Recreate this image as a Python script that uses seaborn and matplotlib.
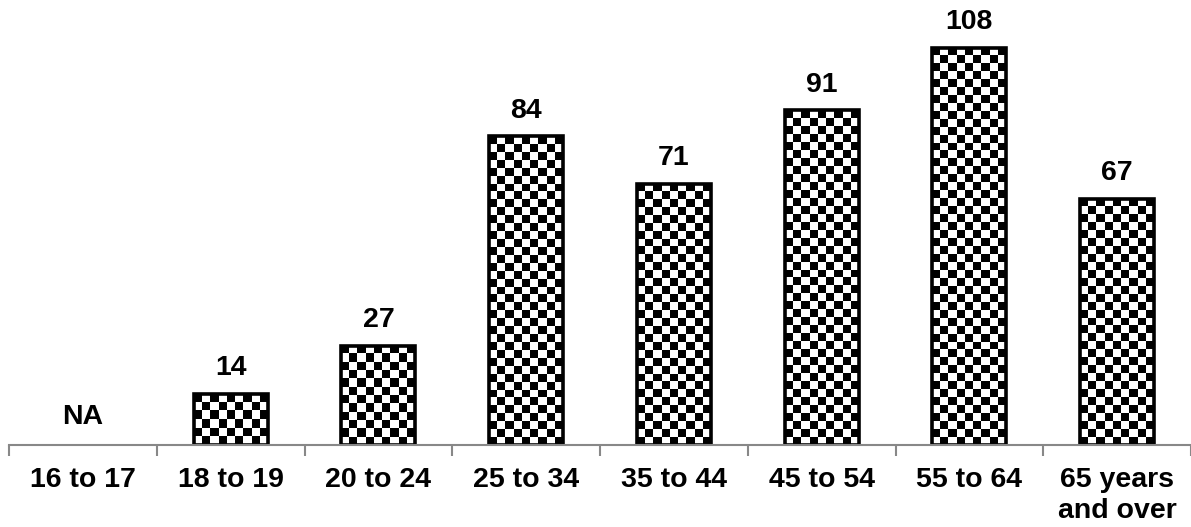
import numpy as np
import pandas as pd
import matplotlib
matplotlib.use("Agg")
import matplotlib.pyplot as plt
import seaborn as sns

# data
age_groups = ["16 to 17", "18 to 19", "20 to 24", "25 to 34", "35 to 44",
              "45 to 54", "55 to 64", "65 years\nand over"]
counts = [np.nan, 14, 27, 84, 71, 91, 108, 67]

df = pd.DataFrame({"age": age_groups, "count": counts})
df_bars = df.dropna()

sns.set_style("white")
plt.rcParams["font.family"] = ["Liberation Sans", "DejaVu Sans"]
plt.rcParams["text.color"] = "black"
plt.rcParams["xtick.color"] = "#888888"
plt.rcParams["xtick.labelcolor"] = "black"

FS = 20.5

fig = plt.figure(figsize=(11.91, 5.27), dpi=100)
ax = fig.add_axes([0.0076, 0.1556, 0.9924, 0.8444])

sns.barplot(data=df_bars, x="age", y="count", order=age_groups, width=0.5,
            color="white", edgecolor="black", linewidth=2.6, saturation=1, ax=ax)

ax.set_ylim(0, 121)
ax.set_xlim(-0.5, len(age_groups) - 0.5)
fig.canvas.draw()

# checkerboard fill clipped to each bar
sq = 8.0  # square size in pixels
for p in ax.patches:
    x0, y0 = p.get_x(), p.get_y()
    w, h = p.get_width(), p.get_height()
    (px0, py0), (px1, py1) = ax.transData.transform([(x0, y0), (x0 + w, y0 + h)])
    nx = max(1, int(round((px1 - px0) / sq)))
    ny = max(1, int(round((py1 - py0) / sq)))
    ii, jj = np.indices((ny, nx))
    board = (ii + jj) % 2
    im = ax.imshow(board, cmap="gray", extent=(x0, x0 + w, y0, y0 + h),
                   aspect="auto", interpolation="nearest", zorder=1.5)
    im.set_clip_path(p)
    p.set_zorder(2)
    p.set_facecolor("none")

# value labels
for i, (lab, v) in enumerate(zip(age_groups, counts)):
    if np.isnan(v):
        ax.text(i, 4, "NA", ha="center", va="bottom", fontsize=FS,
                fontweight="bold", color="black")
    else:
        ax.annotate(f"{int(v)}", (i, v), xytext=(0, 9), textcoords="offset points",
                    ha="center", va="bottom", fontsize=FS, fontweight="bold",
                    color="black")

ax.set_xlabel("")
ax.set_ylabel("")
ax.set_yticks([])
for s in ["top", "right", "left"]:
    ax.spines[s].set_visible(False)
ax.spines["bottom"].set_color("#888888")
ax.spines["bottom"].set_linewidth(1.5)

ax.set_xticks(np.arange(len(age_groups)))
ax.set_xticklabels(age_groups, fontsize=FS, fontweight="bold", linespacing=1.25)
ax.tick_params(axis="x", which="major", length=0, pad=16, labelcolor="black")
ax.set_xticks(np.arange(len(age_groups) + 1) - 0.5, minor=True)
ax.tick_params(axis="x", which="minor", bottom=True, length=8, width=1.5,
               color="#888888", direction="out")
for lbl in ax.get_xticklabels():
    lbl.set_verticalalignment("top")

fig.savefig("out.png", dpi=100)
